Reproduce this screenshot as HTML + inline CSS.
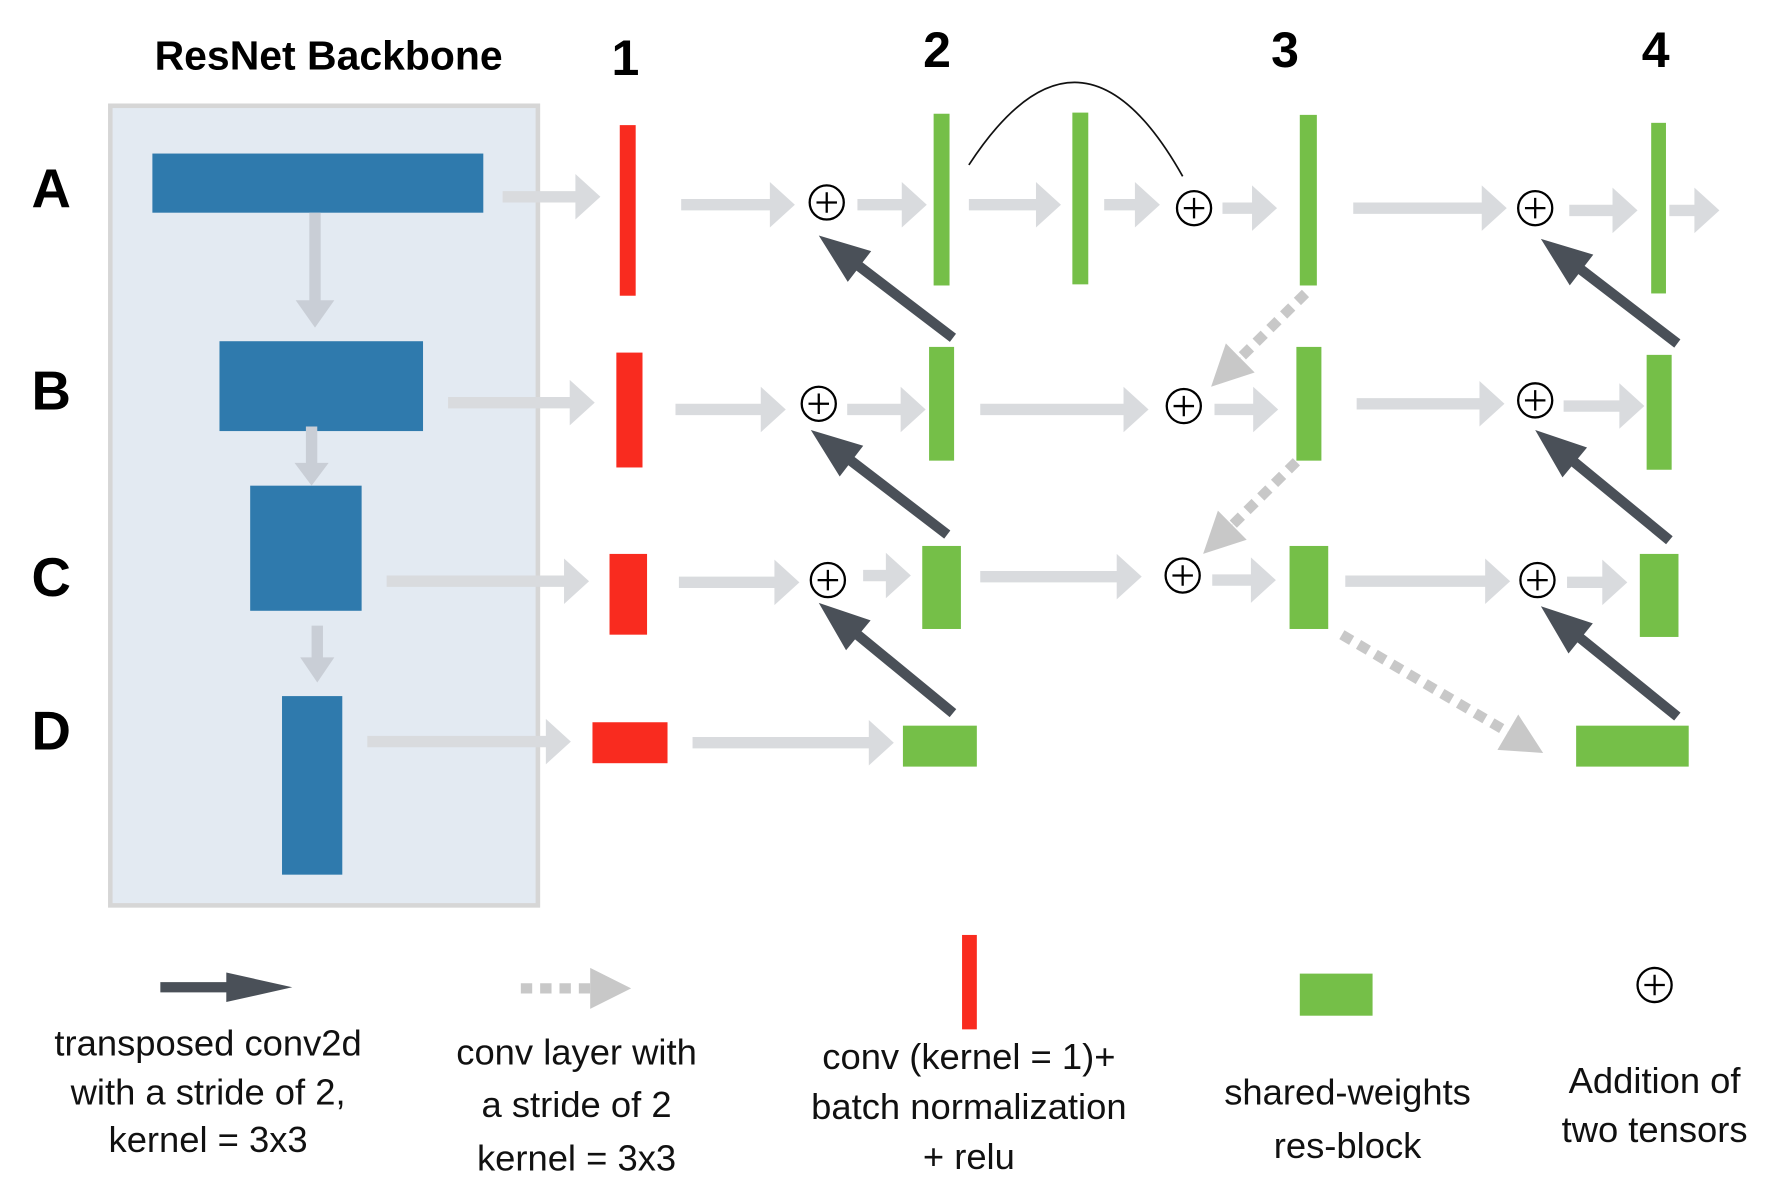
<!DOCTYPE html>
<html><head><meta charset="utf-8"><style>
html,body{margin:0;padding:0;background:#fff;}
svg{display:block}
.t{font-family:"Liberation Sans",sans-serif;}
</style></head><body>
<svg id="s" width="1774" height="1192" viewBox="0 0 1560 1048" preserveAspectRatio="none" xmlns="http://www.w3.org/2000/svg">
<rect x="97" y="93" width="376" height="703" fill="#e3eaf2" stroke="#d6d6d6" stroke-width="4"/>
<g fill="#2f7aad">
<rect x="134" y="135" width="291" height="52"/>
<rect x="193" y="300" width="179" height="79"/>
<rect x="220" y="427" width="98" height="110"/>
<rect x="248" y="612" width="53" height="157"/>
</g>
<g fill="#f92b1f">
<rect x="545" y="110" width="14" height="150"/>
<rect x="542" y="310" width="23" height="101"/>
<rect x="536" y="487" width="33" height="71"/>
<rect x="521" y="635" width="66" height="36"/>
<rect x="846" y="822" width="13" height="83"/>
</g>
<g fill="#75bf48">
<rect x="821" y="100" width="14" height="151"/>
<rect x="943" y="99" width="14" height="151"/>
<rect x="1143" y="101" width="15" height="150"/>
<rect x="1452" y="108" width="13" height="150"/>
<rect x="817" y="305" width="22" height="100"/>
<rect x="1140" y="305" width="22" height="100"/>
<rect x="1448" y="312" width="22" height="101"/>
<rect x="811" y="480" width="34" height="73"/>
<rect x="1134" y="480" width="34" height="73"/>
<rect x="1442" y="487" width="34" height="73"/>
<rect x="794" y="638" width="65" height="36"/>
<rect x="1386" y="638" width="99" height="36"/>
<rect x="1143" y="856" width="64" height="37"/>
</g>
<path d="M852,145 Q950,-5 1040,155" fill="none" stroke="#111" stroke-width="1.5"/>
<g id="arrows"></g>
<g class="t" font-weight="bold" fill="#000" text-anchor="middle">
<text x="289" y="61" font-size="36">ResNet Backbone</text>
<text x="550" y="66" font-size="44">1</text>
<text x="824" y="59" font-size="44">2</text>
<text x="1130" y="59" font-size="44">3</text>
<text x="1456" y="59" font-size="44">4</text>
<text x="45" y="182" font-size="48">A</text>
<text x="45" y="360" font-size="48">B</text>
<text x="45" y="524" font-size="48">C</text>
<text x="45" y="659" font-size="48">D</text>
</g>
<g class="t" font-size="32" fill="#111" text-anchor="middle">
<text x="183" y="928">transposed conv2d</text>
<text x="183" y="971">with a stride of 2,</text>
<text x="183" y="1013">kernel = 3x3</text>
<text x="507" y="936">conv layer with</text>
<text x="507" y="982">a stride of 2</text>
<text x="507" y="1029">kernel = 3x3</text>
<text x="852" y="940">conv (kernel = 1)+</text>
<text x="852" y="984">batch normalization</text>
<text x="852" y="1028">+ relu</text>
<text x="1185" y="971">shared-weights</text>
<text x="1185" y="1018">res-block</text>
<text x="1455" y="961">Addition of</text>
<text x="1455" y="1004">two tensors</text>
</g>
<g id="plus"></g>
</svg>
<script>
var NS="http://www.w3.org/2000/svg";
var g=document.getElementById("arrows");
function arrow(x1,y1,x2,y2,sw,hw,hl,col){
 var dx=x2-x1,dy=y2-y1,L=Math.sqrt(dx*dx+dy*dy),ux=dx/L,uy=dy/L,px=-uy,py=ux;
 var bx=x2-ux*hl,by=y2-uy*hl;
 var pts=[[x1+px*sw,y1+py*sw],[bx+px*sw,by+py*sw],[bx+px*hw,by+py*hw],[x2,y2],[bx-px*hw,by-py*hw],[bx-px*sw,by-py*sw],[x1-px*sw,y1-py*sw]];
 var p=document.createElementNS(NS,"polygon");
 p.setAttribute("points",pts.map(function(q){return q[0].toFixed(1)+","+q[1].toFixed(1)}).join(" "));
 p.setAttribute("fill",col);g.appendChild(p);
}
function gray(x1,x2,y){arrow(x1,y,x2,y,5,20,22,"#d9dbde");}
[[442,528,173],[599,699,180],[754,815,180],[852,933,180],[971,1020,180],[1075,1123,183],[1190,1325,183],[1380,1440,185],[1468,1512,185],
[394,523,354],[594,691,360],[745,814,360],[862,1010,360],[1068,1124,360],[1193,1323,355],[1375,1446,357],
[340,518,511],[597,703,512],[759,801,506],[862,1004,507],[1066,1122,510],[1183,1328,511],[1378,1431,512],
[323,502,652],[609,786,653]].forEach(function(a){gray(a[0],a[1],a[2]);});
// backbone down arrows
arrow(277,187,277,288,5,17,24,"#c9ced6");
arrow(274,375,274,427,5,15,20,"#c9ced6");
arrow(279,550,279,600,5,15,22,"#c9ced6");
var D="#4a5058";
[[838,297,720,207],[833,470,713,378],[838,627,720,530],[1475,302,1355,210],[1468,475,1350,378],[1475,630,1355,533]].forEach(function(a){arrow(a[0],a[1],a[2],a[3],4.5,17,45,D);});
arrow(141,868,257,868,4.5,13,58,D);
function dotted(x1,y1,x2,y2){
 var dx=x2-x1,dy=y2-y1,L=Math.sqrt(dx*dx+dy*dy),ux=dx/L,uy=dy/L,hl=36;
 var l=document.createElementNS(NS,"line");
 l.setAttribute("x1",x1);l.setAttribute("y1",y1);l.setAttribute("x2",x2-ux*hl);l.setAttribute("y2",y2-uy*hl);
 l.setAttribute("stroke","#c8c8c8");l.setAttribute("stroke-width","9");l.setAttribute("stroke-dasharray","10 7");g.appendChild(l);
 arrow(x2-ux*(hl+1),y2-uy*(hl+1),x2,y2,0.1,18,hl,"#c8c8c8");
}
dotted(1148,258,1065,340);dotted(1140,406,1058,487);dotted(1180,558,1357,662);dotted(458,869,555,869);
var pg=document.getElementById("plus");
[[727,178],[1050,183],[1350,183],[720,355],[1041,357],[1350,352],[728,510],[1040,506],[1352,510],[1455,866]].forEach(function(c){
 var e=document.createElementNS(NS,"circle");e.setAttribute("cx",c[0]);e.setAttribute("cy",c[1]);e.setAttribute("r",15);
 e.setAttribute("fill","#fff");e.setAttribute("stroke","#000");e.setAttribute("stroke-width","2");pg.appendChild(e);
 var p=document.createElementNS(NS,"path");p.setAttribute("d","M"+(c[0]-9)+","+c[1]+"h18M"+c[0]+","+(c[1]-9)+"v18");
 p.setAttribute("stroke","#000");p.setAttribute("stroke-width","2");pg.appendChild(p);
});
</script>
</body></html>
